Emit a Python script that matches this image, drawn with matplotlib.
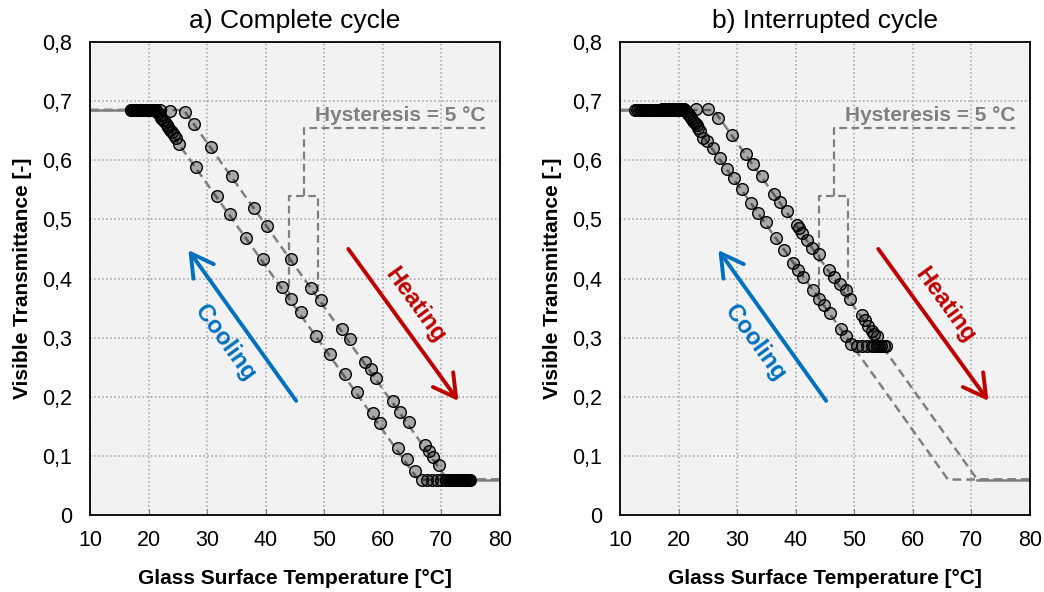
import numpy as np
import matplotlib
matplotlib.use("Agg")
import matplotlib.pyplot as plt
from matplotlib.ticker import FuncFormatter

plt.rcParams['font.family'] = ['Liberation Sans', 'DejaVu Sans']

# ---- data ----
# model curves (dashed), temperature [°C] / visible transmittance [-]
heat_model_T = [10, 26, 71, 80]
heat_model_tv = [0.685, 0.685, 0.06, 0.06]
cool_model_T = [80, 66, 21, 10]
cool_model_tv = [0.06, 0.06, 0.685, 0.685]

# a) complete cycle, measured
a_heat_T = [17.0, 17.3, 17.6, 17.9, 18.2, 18.5, 18.8, 19.1, 19.4, 19.7, 20.0, 20.3, 20.6, 20.9, 21.2,
            22.0, 23.7, 26.2, 27.8, 30.6, 34.2, 38.0, 40.3, 44.3, 47.8, 49.4, 53.0, 54.4, 57.0,
            57.9, 58.9, 61.7, 63.0, 64.5, 67.2, 67.9, 68.6, 69.5,
            70.8, 71.3, 71.8, 72.3, 72.8, 73.3, 73.7, 74.1, 74.5, 74.9]
a_heat_tv = [0.685] * 15 + [0.685, 0.684, 0.682, 0.662, 0.623, 0.573, 0.520, 0.489, 0.433, 0.384,
                            0.363, 0.315, 0.298, 0.258, 0.247, 0.231, 0.193, 0.174, 0.157, 0.119,
                            0.109, 0.098, 0.085] + [0.06] * 10
a_cool_T = [74.7, 74.3, 73.9, 73.5, 73.0, 72.5, 72.0, 71.4, 70.7, 70.0, 69.2, 68.4, 67.5, 66.6,
            65.5, 64.1, 62.6, 59.5, 58.4, 55.5, 53.5, 51.0, 48.6, 46.0, 44.4, 42.7, 39.5, 36.7,
            33.9, 31.6, 28.1, 25.2, 24.6, 24.3, 24.0, 23.7, 23.4, 23.1, 22.8, 22.5, 22.2, 21.9,
            21.6, 21.3, 21.0, 20.6, 20.2, 19.8, 19.4, 19.0, 18.6, 18.2, 17.8, 17.4, 17.0]
a_cool_tv = [0.06] * 14 + [0.075, 0.094, 0.113, 0.156, 0.173, 0.208, 0.238, 0.272, 0.303, 0.343,
                           0.365, 0.386, 0.433, 0.468, 0.509, 0.540, 0.588, 0.628, 0.638, 0.643,
                           0.647, 0.652, 0.656, 0.660, 0.664, 0.668, 0.672, 0.676, 0.680, 0.684,
                           0.685] + [0.685] * 10

# b) interrupted cycle, measured
b_heat_T = [12.6, 12.9, 13.2, 13.5, 13.8, 14.1, 14.4, 14.7, 15.0, 15.3, 15.6, 16.2, 16.5, 16.8,
            17.1, 17.4, 17.7, 18.0, 18.3, 18.6, 18.9, 19.2, 19.5, 19.8, 20.1, 20.4, 20.7,
            23.0, 25.1, 26.8, 29.2, 31.5, 32.7, 34.2, 36.3, 37.3, 38.5, 40.2, 40.6, 41.1, 42.0,
            42.8, 43.9, 45.7, 46.5, 47.6, 48.5, 49.3, 51.3, 51.9, 52.4, 53.0, 53.4, 53.8]
b_heat_tv = [0.685] * 27 + [0.686, 0.686, 0.672, 0.643, 0.611, 0.594, 0.574, 0.543, 0.529, 0.515,
                            0.491, 0.485, 0.477, 0.465, 0.452, 0.441, 0.415, 0.403, 0.391, 0.380,
                            0.366, 0.338, 0.329, 0.320, 0.312, 0.306, 0.302]
b_cool_T = [55.4, 55.0, 54.6, 54.2, 53.8, 53.4, 53.0, 52.1, 51.3, 50.4, 49.4, 48.5, 47.7, 45.8,
            44.9, 44.0, 43.0, 41.3, 40.4, 39.6, 38.0, 36.6, 34.9, 33.6, 32.3, 30.8, 29.5, 28.3,
            27.0, 25.9, 24.9, 24.2, 23.7, 23.4, 23.1, 22.8, 22.5, 22.2, 21.9, 21.6, 21.3, 21.0,
            20.7, 20.4, 20.1, 19.8, 19.5, 19.2, 18.9, 18.6, 18.3, 18.0, 17.7, 17.4, 17.1]
b_cool_tv = [0.285] * 10 + [0.290, 0.302, 0.315, 0.342, 0.355, 0.366, 0.380, 0.403, 0.414, 0.426,
                            0.449, 0.469, 0.495, 0.511, 0.528, 0.552, 0.570, 0.586, 0.603, 0.620,
                            0.633, 0.638, 0.650, 0.655, 0.659, 0.663, 0.667, 0.671, 0.675, 0.679,
                            0.683, 0.686] + [0.686] * 13

panels = [
    ("a) Complete cycle", a_heat_T, a_heat_tv, a_cool_T, a_cool_tv),
    ("b) Interrupted cycle", b_heat_T, b_heat_tv, b_cool_T, b_cool_tv),
]
x_ticks = [10, 20, 30, 40, 50, 60, 70, 80]
y_ticks = [0, 0.1, 0.2, 0.3, 0.4, 0.5, 0.6, 0.7, 0.8]
hysteresis = 5

GRAY = '#808080'
BLUE = '#0070C0'
RED = '#C00000'


def comma_fmt(v, pos):
    if abs(v) < 1e-9:
        return '0'
    return f'{v:.1f}'.replace('.', ',')


fig = plt.figure(figsize=(10.44, 5.92), dpi=100)
lefts = [90 / 1044, 620 / 1044]

for left, (title, hT, htv, cT, ctv) in zip(lefts, panels):
    ax = fig.add_axes([left, 77 / 592, 410 / 1044, 473 / 592])
    ax.set_facecolor('#f2f2f2')

    # model lines: dashed, solid where both branches overlap
    ax.plot(heat_model_T, heat_model_tv, color=GRAY, lw=1.8, ls=(0, (3.5, 2)), zorder=2)
    ax.plot(cool_model_T, cool_model_tv, color=GRAY, lw=1.8, ls=(0, (3.5, 2)), zorder=2)
    ax.plot(cool_model_T[2:], cool_model_tv[2:], color=GRAY, lw=1.8, zorder=2)
    ax.plot(heat_model_T[2:], heat_model_tv[2:], color=GRAY, lw=1.8, zorder=2)

    # measurements (translucent faces, so overlapping points turn dark)
    mk = dict(ls='none', marker='o', ms=8.4, mfc=(0, 0, 0, 0.3), mec='black', mew=1.0, zorder=3)
    ax.plot(hT, htv, **mk)
    ax.plot(cT, ctv, **mk)

    # hysteresis bracket
    bx0 = 44
    bx1 = bx0 + hysteresis
    ax.plot([bx0, bx0, bx1, bx1], [0.365, 0.54, 0.54, 0.365], color=GRAY, lw=1.6, ls=(0, (3.5, 2)), zorder=2)
    bm = (bx0 + bx1) / 2
    ax.plot([bm, bm, 77.5], [0.54, 0.655, 0.655], color=GRAY, lw=1.6, ls=(0, (3.5, 2)), zorder=2)
    ax.text(63, 0.676, f'Hysteresis = {hysteresis} °C', color=GRAY, fontsize=15,
            fontweight='bold', ha='center', va='center', zorder=4)

    # arrows
    ax.annotate('', xy=(26.8, 0.448), xytext=(45.2, 0.193),
                arrowprops=dict(arrowstyle='->,head_length=0.8,head_width=0.45',
                                color=BLUE, lw=2.8, mutation_scale=20, shrinkA=0, shrinkB=0))
    ax.annotate('', xy=(72.9, 0.193), xytext=(54.1, 0.450),
                arrowprops=dict(arrowstyle='->,head_length=0.8,head_width=0.45',
                                color=RED, lw=2.8, mutation_scale=20, shrinkA=0, shrinkB=0))
    ax.text(33.0, 0.292, 'Cooling', color=BLUE, fontsize=17, fontweight='bold', rotation=-54,
            rotation_mode='anchor', ha='center', va='center')
    ax.text(65.5, 0.355, 'Heating', color=RED, fontsize=17, fontweight='bold', rotation=-54,
            rotation_mode='anchor', ha='center', va='center')

    ax.set_xlim(10, 80)
    ax.set_ylim(0, 0.8)
    ax.set_xticks(x_ticks)
    ax.set_yticks(y_ticks)
    ax.yaxis.set_major_formatter(FuncFormatter(comma_fmt))
    ax.grid(True, color='#a0a0a0', ls=':', lw=1.1, zorder=0)
    ax.set_axisbelow(True)
    ax.tick_params(axis='x', direction='in', length=4, color='#808080', labelsize=15.5, pad=11)
    ax.tick_params(axis='y', length=0, labelsize=15.5, pad=13)
    for s in ax.spines.values():
        s.set_color('black')
        s.set_linewidth(1.3)

    ax.set_title(title, fontsize=19, pad=10)
    ax.set_xlabel('Glass Surface Temperature [°C]', fontsize=15, fontweight='bold', labelpad=13)
    ax.set_ylabel('Visible Transmittance [-]', fontsize=15, fontweight='bold', labelpad=7)

fig.savefig('out.png', dpi=100)
